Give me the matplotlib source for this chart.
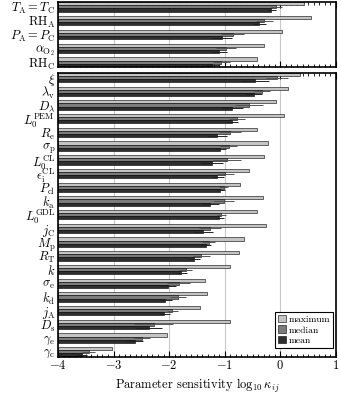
import numpy as np
import matplotlib
matplotlib.use("Agg")
import matplotlib.pyplot as plt
from matplotlib.ticker import MultipleLocator

plt.rcParams['font.family'] = ['cmr10', 'DejaVu Serif']
plt.rcParams['mathtext.fontset'] = 'cm'
plt.rcParams['axes.formatter.use_mathtext'] = True
plt.rcParams['axes.unicode_minus'] = True

# operating conditions (top panel)
top_labels = [r'$T_\mathrm{A}=T_\mathrm{C}$', r'$\mathrm{RH}_\mathrm{A}$', r'$P_\mathrm{A}=P_\mathrm{C}$',
              r'$\alpha_{\mathrm{O}_2}$', r'$\mathrm{RH}_\mathrm{C}$']
top_max = [0.43, 0.56, 0.03, -0.30, -0.42]
top_median = [-0.07, -0.29, -0.86, -0.97, -1.06]
top_mean = [-0.16, -0.38, -1.05, -1.10, -1.22]
top_med_err = [0.10, 0.15, 0.20, 0.18, 0.15]
top_mean_err = [0.08, 0.12, 0.18, 0.15, 0.12]

# model parameters (bottom panel)
bot_labels = [r'$\xi$', r'$\lambda_\mathrm{v}$', r'$D_\lambda$', r'$L_0^\mathrm{PEM}$', r'$R_\mathrm{e}$',
              r'$\sigma_\mathrm{p}$', r'$L_0^\mathrm{CL}$', r'$\epsilon_\mathrm{i}^\mathrm{CL}$', r'$P_\mathrm{cl}$',
              r'$k_\mathrm{a}$', r'$L_0^\mathrm{GDL}$', r'$j_\mathrm{C}$', r'$M_\mathrm{p}$', r'$R_\mathrm{T}$',
              r'$k$', r'$\sigma_\mathrm{e}$', r'$k_\mathrm{d}$', r'$j_\mathrm{A}$', r'$D_\mathrm{s}$',
              r'$\gamma_\mathrm{e}$', r'$\gamma_\mathrm{c}$']
bot_max = [0.35, 0.13, -0.08, 0.07, -0.42, -0.23, -0.30, -0.57, -0.72, -0.32, -0.42,
           -0.26, -0.65, -0.74, -0.90, -1.35, -1.32, -1.44, -0.90, -2.04, -3.03]
bot_median = [-0.06, -0.33, -0.57, -0.78, -0.90, -0.93, -0.96, -0.99, -1.02, -1.02, -1.06,
              -1.26, -1.29, -1.42, -1.70, -1.83, -1.84, -1.94, -2.28, -2.49, -3.45]
bot_mean = [-0.45, -0.48, -0.87, -0.87, -1.14, -1.08, -1.23, -1.13, -1.08, -1.26, -1.10,
            -1.39, -1.34, -1.56, -1.78, -2.02, -2.07, -2.09, -2.37, -2.62, -3.57]
bot_med_err = [0.20, 0.15, 0.25, 0.15, 0.20, 0.15, 0.25, 0.15, 0.08, 0.18, 0.08,
               0.20, 0.12, 0.15, 0.12, 0.20, 0.15, 0.10, 0.35, 0.15, 0.12]
bot_mean_err = [0.25, 0.15, 0.20, 0.10, 0.18, 0.10, 0.20, 0.12, 0.08, 0.15, 0.08,
                0.18, 0.10, 0.12, 0.10, 0.15, 0.12, 0.10, 0.25, 0.15, 0.10]

XMIN, XMAX = -4, 1
c_max, c_med, c_mean = '#c4c4c4', '#7c7c7c', '#2e2e2e'
h = 0.23


def draw_panel(ax, labels, vmax, vmed, vmean, emed, emean, show_x):
    y = np.arange(len(labels))
    vmax, vmed, vmean = np.array(vmax), np.array(vmed), np.array(vmean)
    ax.barh(y - h, vmax - XMIN, left=XMIN, height=h, color=c_max, edgecolor='k', linewidth=0.4,
            label='maximum', zorder=2)
    ax.barh(y, vmed - XMIN, left=XMIN, height=h, color=c_med, edgecolor='k', linewidth=0.4,
            label='median', zorder=2)
    ax.barh(y + h, vmean - XMIN, left=XMIN, height=h, color=c_mean, edgecolor='k', linewidth=0.4,
            label='mean', zorder=2)
    ax.errorbar(vmed, y, xerr=emed, fmt='none', ecolor='#555555', elinewidth=0.7, capsize=0, zorder=3)
    ax.errorbar(vmean, y + h, xerr=emean, fmt='none', ecolor='#222222', elinewidth=0.7, capsize=0, zorder=3)
    ax.set_yticks(y)
    ax.set_yticklabels(labels, fontsize=9)
    ax.tick_params(axis='y', length=0, pad=2)
    ax.set_ylim(len(labels) - 1 + 1.5 * h, -1.5 * h)
    ax.set_xlim(XMIN, XMAX)
    ax.xaxis.set_major_locator(MultipleLocator(1))
    ax.xaxis.set_minor_locator(MultipleLocator(0.1))
    ax.tick_params(axis='x', which='both', direction='in', top=True, bottom=True)
    ax.tick_params(axis='x', which='major', length=4, labelsize=9, pad=2)
    ax.tick_params(axis='x', which='minor', length=2)
    if not show_x:
        ax.tick_params(axis='x', labelbottom=False)
    ax.grid(axis='x', color='#c8c8c8', linewidth=0.8, zorder=0)
    ax.set_axisbelow(True)
    for s in ax.spines.values():
        s.set_linewidth(1.2)


fig = plt.figure(figsize=(3.41, 3.94), dpi=100)
ax1 = fig.add_axes([0.170, 0.830, 0.815, 0.165])
ax2 = fig.add_axes([0.170, 0.095, 0.815, 0.720])

draw_panel(ax1, top_labels, top_max, top_median, top_mean, top_med_err, top_mean_err, False)
draw_panel(ax2, bot_labels, bot_max, bot_median, bot_mean, bot_med_err, bot_mean_err, True)

ax2.set_xlabel(r'Parameter sensitivity $\log_{10}\kappa_{ij}$', fontsize=9, labelpad=3)
leg = ax2.legend(loc='lower right', fontsize=7, fancybox=False, edgecolor='k', framealpha=1,
                 handlelength=0.8, handleheight=0.8, handletextpad=0.3, borderpad=0.3,
                 labelspacing=0.15, borderaxespad=0, bbox_to_anchor=(0.99, 0.03))
leg.get_frame().set_linewidth(0.8)

fig.savefig('out.png', dpi=100)
